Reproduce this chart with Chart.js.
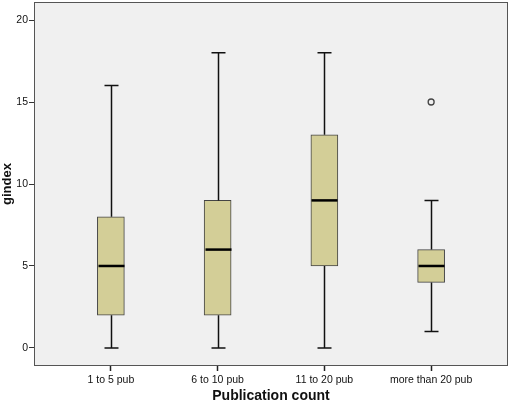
<!DOCTYPE html>
<html>
<head>
<meta charset="utf-8">
<script src="https://cdn.jsdelivr.net/npm/chart.js@4.4.1/dist/chart.umd.min.js"></script>
<style>
  body { margin: 0; background: #fff; }
  #wrap { width: 510px; height: 405px; }
</style>
</head>
<body>
<div id="wrap"><canvas id="chart" width="510" height="405"></canvas></div>
<script>
// box plot values
const categories = ['1 to 5 pub', '6 to 10 pub', '11 to 20 pub', 'more than 20 pub'];
const whiskerLow = [0, 0, 0, 1];
const quart1 = [2, 2, 5, 4];
const medians = [5, 6, 9, 5];
const quart3 = [8, 9, 13, 6];
const whiskerHigh = [16, 18, 18, 9];
const outliers = [{cat: 3, value: 15}];
const yTicks = [0, 5, 10, 15, 20];

const boxData = categories.map((c, i) => ({x: i, y: [quart1[i], quart3[i]]}));
const outlierData = outliers.map(o => ({x: o.cat, y: o.value}));

// plot background + frame
const frame = {
  id: 'frame',
  beforeDatasetsDraw(chart) {
    const a = chart.chartArea, ctx = chart.ctx;
    ctx.save();
    ctx.fillStyle = '#f0f0f0';
    ctx.fillRect(a.left, a.top, a.right - a.left, a.bottom - a.top);
    ctx.restore();
  },
  afterDraw(chart) {
    const a = chart.chartArea, ctx = chart.ctx;
    ctx.save();
    ctx.strokeStyle = '#555';
    ctx.lineWidth = 1;
    ctx.strokeRect(a.left + 0.5, a.top + 0.5, a.right - a.left - 1, a.bottom - a.top - 1);
    ctx.restore();
  }
};

// whiskers, caps and medians
const whiskers = {
  id: 'whiskers',
  afterDatasetsDraw(chart) {
    const ctx = chart.ctx, xs = chart.scales.x, ys = chart.scales.y;
    ctx.save();
    ctx.strokeStyle = '#111';
    categories.forEach((c, i) => {
      const x = Math.round(xs.getPixelForValue(i)) + 0.5;
      ctx.lineWidth = 1.5;
      ctx.beginPath();
      ctx.moveTo(x, ys.getPixelForValue(whiskerLow[i]));
      ctx.lineTo(x, ys.getPixelForValue(quart1[i]));
      ctx.moveTo(x, ys.getPixelForValue(quart3[i]));
      ctx.lineTo(x, ys.getPixelForValue(whiskerHigh[i]));
      ctx.moveTo(x - 7, ys.getPixelForValue(whiskerLow[i]));
      ctx.lineTo(x + 7, ys.getPixelForValue(whiskerLow[i]));
      ctx.moveTo(x - 7, ys.getPixelForValue(whiskerHigh[i]));
      ctx.lineTo(x + 7, ys.getPixelForValue(whiskerHigh[i]));
      ctx.stroke();
      ctx.lineWidth = 2.5;
      ctx.strokeStyle = '#000';
      ctx.beginPath();
      ctx.moveTo(x - 13, ys.getPixelForValue(medians[i]));
      ctx.lineTo(x + 13, ys.getPixelForValue(medians[i]));
      ctx.stroke();
      ctx.strokeStyle = '#111';
    });
    ctx.restore();
  }
};

const config = {
  type: 'bar',
  data: {
    datasets: [{
      type: 'bar',
      data: boxData,
      backgroundColor: '#d3ce97',
      borderColor: '#444',
      borderWidth: 1,
      borderSkipped: false,
      barThickness: 27,
      grouped: false
    }, {
      type: 'scatter',
      data: outlierData,
      pointStyle: 'circle',
      pointRadius: 3,
      backgroundColor: '#f0f0f0',
      borderColor: '#444',
      borderWidth: 1.3
    }]
  },
  options: {
    responsive: false,
    animation: false,
    layout: {autoPadding: false, padding: {top: 2, right: 2, left: 0, bottom: 0}},
    plugins: {legend: {display: false}, tooltip: {enabled: false}},
    scales: {
      x: {
        type: 'linear',
        min: -0.72,
        max: 3.72,
        offset: false,
        afterBuildTicks(s) { s.ticks = categories.map((c, i) => ({value: i})); },
        afterFit(s) { s.height = 39; s.paddingLeft = 0; s.paddingRight = 0; },
        grid: {offset: false, drawOnChartArea: false, drawTicks: true, tickLength: 5, tickWidth: 1.5, color: '#222'},
        border: {display: false},
        ticks: {
          callback: (v) => categories[v],
          color: '#111',
          font: {family: 'Liberation Sans', size: 10.5},
          padding: 3,
          maxRotation: 0
        },
        title: {
          display: true,
          text: 'Publication count',
          color: '#111',
          font: {family: 'Liberation Sans', size: 14, weight: 'bold'},
          padding: {top: 2, bottom: 0}
        }
      },
      y: {
        min: -1.1,
        max: 21.1,
        afterBuildTicks(s) { s.ticks = yTicks.map(v => ({value: v})); },
        afterFit(s) { s.width = 34; s.paddingTop = 0; s.paddingBottom = 0; },
        grid: {drawOnChartArea: false, drawTicks: true, tickLength: 5, color: '#333'},
        border: {display: false},
        ticks: {
          color: '#111',
          font: {family: 'Liberation Sans', size: 10.5},
          padding: 1
        },
        title: {
          display: true,
          text: 'gindex',
          color: '#111',
          font: {family: 'Liberation Sans', size: 13, weight: 'bold'},
          padding: {top: 0, bottom: 0}
        }
      }
    }
  },
  plugins: [frame, whiskers]
};

var ctx = document.getElementById('chart');
var myChart = new Chart(ctx, config);
</script>
</body>
</html>
